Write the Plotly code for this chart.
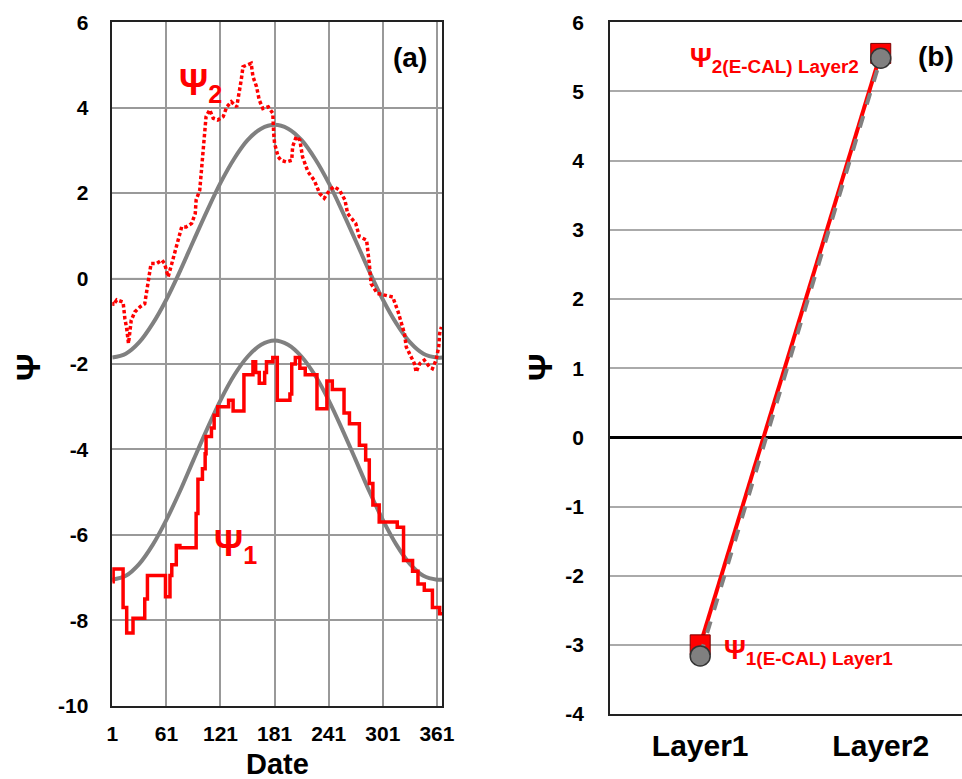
import plotly.graph_objects as go

FONT = "Liberation Sans, Arial, sans-serif"
RED = "#ff0000"
GRAY = "#808080"

# ---------------- Panel (a) data ----------------
date_ticks = [1, 61, 121, 181, 241, 301, 361]
psi_ticks_a = [-10, -8, -6, -4, -2, 0, 2, 4, 6]
psi_ticktext_a = ["-10", "-8", "-6", "-4", "-2", "0", "2", "4", "6"]

# Psi1 (step series, value holds until next change day)
psi1_days = [1, 2, 13, 17, 24, 37, 40, 60, 65, 67, 72, 76, 94, 96, 101, 104, 105, 111,
             114, 118, 130, 135, 147, 157, 160, 164, 170, 172, 179, 184, 198, 200, 204,
             209, 215, 228, 239, 245, 258, 264, 275, 282, 286, 290, 297, 317, 324, 334,
             340, 347, 356, 364, 367]
psi1_vals = [-7.1, -6.8, -7.7, -8.3, -7.95, -7.5, -6.95, -7.45, -6.95, -6.7, -6.25, -6.3,
             -5.5, -4.7, -4.45, -4.1, -3.7, -3.5, -3.2, -3.0, -2.85, -3.1, -2.25, -1.95,
             -2.2, -2.45, -2.2, -1.95, -1.85, -2.85, -2.7, -2.0, -1.85, -2.1, -2.25, -3.05,
             -2.4, -2.6, -3.15, -3.4, -3.9, -4.25, -4.8, -5.3, -5.7, -5.82, -6.6, -6.85,
             -7.15, -7.3, -7.7, -7.85, -7.85]

# Psi2 (dotted series)
psi2_days = [1, 2, 6, 13, 15, 17, 19, 22, 26, 32, 37, 41, 44, 50, 56, 59, 63, 67, 70, 74,
             78, 83, 89, 93, 94, 98, 100, 102, 104, 105, 109, 113, 118, 124, 128, 133, 139,
             142, 144, 146, 152, 155, 157, 161, 164, 168, 174, 179, 180, 181, 185, 188,
             194, 200, 201, 205, 209, 212, 218, 225, 231, 236, 242, 247, 253, 259, 262,
             271, 275, 283, 286, 288, 295, 303, 312, 318, 321, 325, 327, 332, 336, 338,
             342, 347, 353, 356, 360, 363, 364, 366]
psi2_vals = [-0.55, -0.62, -0.5, -0.55, -0.94, -1.17, -1.52, -0.98, -0.78, -0.66, -0.59,
             -0.04, 0.35, 0.35, 0.43, 0.35, 0.04, 0.35, 0.59, 0.9, 1.21, 1.21, 1.29, 1.52,
             1.84, 2.07, 2.62, 3.16, 3.48, 3.79, 3.95, 3.75, 3.71, 3.79, 4.02, 4.14, 4.02,
             4.34, 4.65, 4.96, 5.0, 5.04, 4.73, 4.49, 4.18, 3.98, 4.02, 3.87, 3.4, 3.16,
             2.85, 2.77, 2.73, 2.77, 3.09, 3.32, 3.24, 2.85, 2.5, 2.3, 1.99, 1.88, 2.07,
             2.15, 2.07, 1.84, 1.52, 1.29, 0.98, 0.9, 0.35, -0.12, -0.35, -0.39, -0.43,
             -0.78, -0.98, -1.29, -1.6, -1.8, -1.99, -2.19, -1.99, -1.91, -2.07, -2.11,
             -1.91, -1.6, -1.29, -1.13]

# Smooth gray fitted curves (read at 15-day steps)
fit_days = [1, 16, 31, 46, 61, 76, 91, 106, 121, 136, 151, 166, 181, 196, 211, 226, 241,
            256, 271, 286, 301, 316, 331, 346, 361, 367]
fit1_vals = [-7.05, -6.96, -6.68, -6.23, -5.65, -4.98, -4.25, -3.53, -2.85, -2.27, -1.83,
             -1.55, -1.45, -1.55, -1.83, -2.27, -2.85, -3.53, -4.25, -4.98, -5.65, -6.23,
             -6.68, -6.96, -7.05, -7.05]
fit2_vals = [-1.85, -1.76, -1.49, -1.05, -0.49, 0.17, 0.88, 1.58, 2.24, 2.80, 3.24, 3.51,
             3.60, 3.51, 3.24, 2.80, 2.24, 1.58, 0.88, 0.17, -0.49, -1.05, -1.49, -1.76,
             -1.85, -1.85]

# ---------------- Panel (b) data ----------------
layers = ["Layer1", "Layer2"]
psi_ecal = [-3.0, 5.55]
psi_model = [-3.16, 5.48]
psi_ticks_b = [-4, -3, -2, -1, 0, 1, 2, 3, 4, 5, 6]
psi_ticktext_b = ["-4", "-3", "-2", "-1", "0", "1", "2", "3", "4", "5", "6"]

fig = go.Figure()

# Panel (a)
fig.add_trace(go.Scatter(x=fit_days, y=fit2_vals, mode="lines",
                         line=dict(color=GRAY, width=4, shape="spline"),
                         xaxis="x", yaxis="y", showlegend=False, hoverinfo="skip"))
fig.add_trace(go.Scatter(x=fit_days, y=fit1_vals, mode="lines",
                         line=dict(color=GRAY, width=4, shape="spline"),
                         xaxis="x", yaxis="y", showlegend=False, hoverinfo="skip"))
fig.add_trace(go.Scatter(x=psi2_days, y=psi2_vals, mode="lines",
                         line=dict(color=RED, width=3.5, dash="3.5px,2.5px"),
                         xaxis="x", yaxis="y", showlegend=False))
fig.add_trace(go.Scatter(x=psi1_days, y=psi1_vals, mode="lines",
                         line=dict(color=RED, width=3.5, shape="hv"),
                         xaxis="x", yaxis="y", showlegend=False))

# Panel (b)
fig.add_trace(go.Scatter(x=layers, y=psi_ecal, mode="lines+markers",
                         line=dict(color=RED, width=4),
                         marker=dict(symbol="square", size=20, color=RED,
                                     line=dict(color="#7a0000", width=1)),
                         xaxis="x2", yaxis="y2", showlegend=False))
fig.add_trace(go.Scatter(x=layers, y=psi_model, mode="lines+markers",
                         line=dict(color=GRAY, width=4, dash="dash"),
                         marker=dict(symbol="circle", size=20, color=GRAY,
                                     line=dict(color="#333333", width=1.5)),
                         xaxis="x2", yaxis="y2", showlegend=False))

tickfont = dict(family=FONT, size=21, color="black", weight="bold")

fig.update_layout(
    width=962, height=779,
    margin=dict(l=0, r=0, t=0, b=0),
    paper_bgcolor="white", plot_bgcolor="white",
    xaxis=dict(domain=[0.1167, 0.4598], range=[1, 367], tickvals=date_ticks,
               showgrid=True, gridcolor="#999999", gridwidth=1.5, zeroline=False,
               showline=True, linecolor="#222222", linewidth=1.5, mirror=True,
               ticks="", ticklabelstandoff=8, tickfont=tickfont, anchor="y",
               automargin=False),
    yaxis=dict(domain=[0.0941, 0.9714], range=[-10, 6], tickvals=psi_ticks_a,
               ticktext=psi_ticktext_a,
               showgrid=True, gridcolor="#999999", gridwidth=1.5, zeroline=False,
               showline=True, linecolor="#222222", linewidth=1.5, mirror=True,
               ticks="", ticklabelstandoff=18, tickfont=tickfont, anchor="x",
               automargin=False),
    xaxis2=dict(domain=[0.634, 1.0], type="category", range=[-0.5, 1.45],
                showgrid=False, zeroline=False, showline=True, linecolor="#222222",
                linewidth=1.5, mirror=True, ticks="", ticklabelstandoff=4,
                tickfont=dict(family=FONT, size=30, color="black", weight="bold"),
                anchor="y2", automargin=False),
    yaxis2=dict(domain=[0.0834, 0.9714], range=[-4, 6], tickvals=psi_ticks_b,
                ticktext=psi_ticktext_b,
                showgrid=True, gridcolor="#aaaaaa", gridwidth=1.5,
                zeroline=True, zerolinecolor="black", zerolinewidth=2.5,
                showline=True, linecolor="#222222", linewidth=1.5, mirror=False,
                ticks="", ticklabelstandoff=20,
                tickfont=dict(family=FONT, size=21, color="black", weight="bold"),
                anchor="x2", automargin=False),
)

# lighter gridline at zero in panel (a), as in the original
fig.add_shape(type="line", xref="x domain", yref="y", x0=0, x1=1, y0=0, y1=0,
              line=dict(color="#cccccc", width=1.5), layer="below")

def ann(text, x, y, xref, yref, size, color="black", xanchor="center",
        yanchor="middle", angle=0):
    fig.add_annotation(text=text, x=x, y=y, xref=xref, yref=yref, showarrow=False,
                       xanchor=xanchor, yanchor=yanchor, textangle=angle,
                       font=dict(family=FONT, size=size, color=color, weight="bold"))

# Axis titles
ann("Ψ", 28 / 962, 1 - 367 / 779, "paper", "paper", 34, angle=-90)
ann("Date", 277 / 962, 1 - 764 / 779, "paper", "paper", 29)
ann("Ψ", 540 / 962, 1 - 367 / 779, "paper", "paper", 34, angle=-90)

# Panel labels
ann("(a)", 331, 5.18, "x", "y", 28)
ann("(b)", 1.306, 5.5, "x2", "y2", 28)

# Series labels
ann("Ψ<sub>2</sub>", 73, 4.54, "x", "y", 36, color=RED, xanchor="left")
ann("Ψ<sub>1</sub>", 112, -6.25, "x", "y", 36, color=RED, xanchor="left")
ann("Ψ<sub>2(E-CAL) Layer2</sub>", 0.889, 5.45, "x2", "y2", 27, color=RED,
    xanchor="right")
ann("Ψ<sub>1(E-CAL) Layer1</sub>", 0.122, -3.1, "x2", "y2", 27, color=RED,
    xanchor="left")

fig.write_html("out.html")
